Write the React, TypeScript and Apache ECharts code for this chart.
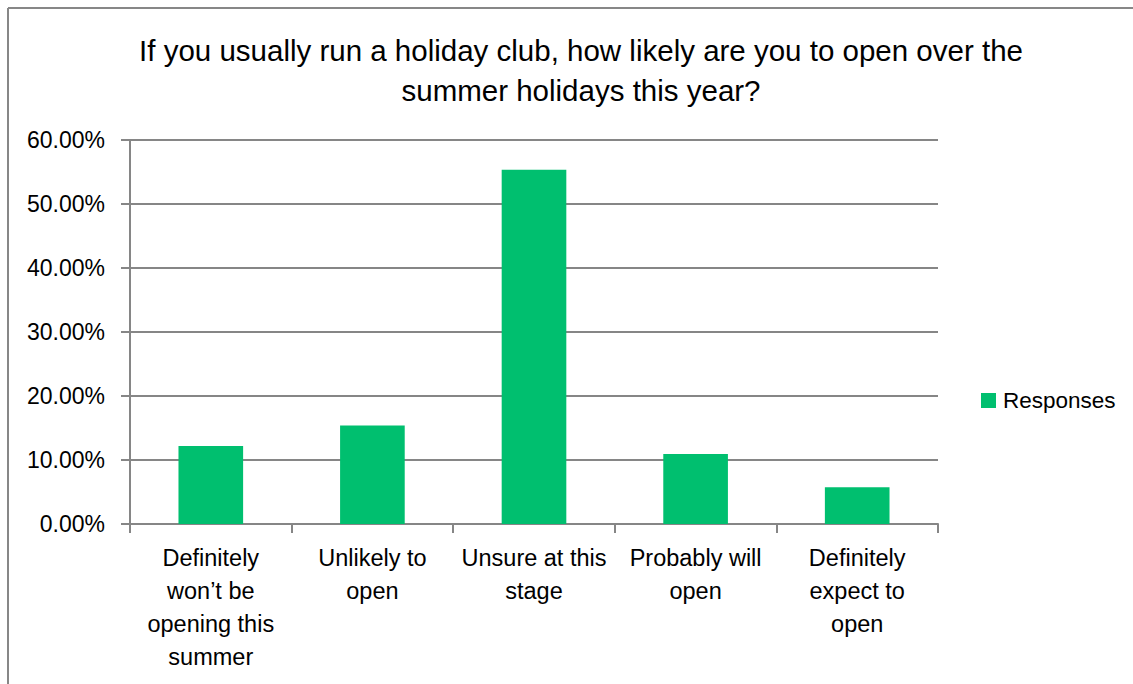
import React, { useEffect, useRef } from "react";
import * as echarts from "echarts";

const categories = [
  "Definitely\nwon’t be\nopening this\nsummer",
  "Unlikely to\nopen",
  "Unsure at this\nstage",
  "Probably will\nopen",
  "Definitely\nexpect to\nopen",
];
const responses = [12.2, 15.4, 55.35, 10.95, 5.75];
const seriesName = "Responses";
const titleText = "If you usually run a holiday club, how likely are you to open over the\nsummer holidays this year?";

const FONT = "'Liberation Sans', Arial, sans-serif";

export default function App() {
  const ref = useRef<HTMLDivElement>(null);
  useEffect(() => {
    const chart = echarts.init(ref.current!, null, { renderer: "svg" });
    chart.setOption({
      animation: false,
      backgroundColor: "#ffffff",
      textStyle: { fontFamily: FONT },
      title: {
        text: titleText,
        left: 576,
        textAlign: "center",
        top: 25,
        textStyle: { fontFamily: FONT, fontSize: 29.5, fontWeight: "normal", color: "#000", lineHeight: 40 },
      },
      legend: {
        data: [seriesName],
        left: 976,
        top: 384,
        orient: "vertical",
        icon: "rect",
        itemWidth: 15,
        itemHeight: 15,
        itemGap: 8,
        textStyle: { fontFamily: FONT, fontSize: 22.5, color: "#000", padding: [0, 0, 0, 2] },
      },
      grid: { left: 130, right: 195, top: 140, bottom: 160 },
      xAxis: {
        type: "category",
        data: categories,
        axisLine: { lineStyle: { color: "#868686", width: 2 } },
        axisTick: { show: true, length: 9, lineStyle: { color: "#868686", width: 2 } },
        axisLabel: { interval: 0, fontFamily: FONT, fontSize: 23.5, color: "#000", lineHeight: 33, margin: 17 },
      },
      yAxis: {
        type: "value",
        min: 0,
        max: 60,
        interval: 10,
        axisLine: { show: true, lineStyle: { color: "#868686", width: 2 } },
        axisTick: { show: true, length: 9, lineStyle: { color: "#868686", width: 2 } },
        splitLine: { lineStyle: { color: "#868686", width: 2 } },
        axisLabel: {
          fontFamily: FONT,
          fontSize: 23,
          color: "#000",
          margin: 25,
          formatter: (v: number) => v.toFixed(2) + "%",
        },
      },
      series: [
        {
          name: seriesName,
          type: "bar",
          data: responses,
          barCategoryGap: "60%",
          itemStyle: { color: "#00BF6F" },
        },
      ],
      graphic: [
        { type: "line", shape: { x1: 8, y1: 8, x2: 1133, y2: 8 }, style: { stroke: "#878787", lineWidth: 2 } },
        { type: "line", shape: { x1: 8, y1: 8, x2: 8, y2: 684 }, style: { stroke: "#878787", lineWidth: 2 } },
      ],
    });
    return () => chart.dispose();
  }, []);
  return (
    <div
      ref={ref}
      style={{ position: "fixed", left: 0, top: 0, width: 1133, height: 684 }}
    />
  );
}
